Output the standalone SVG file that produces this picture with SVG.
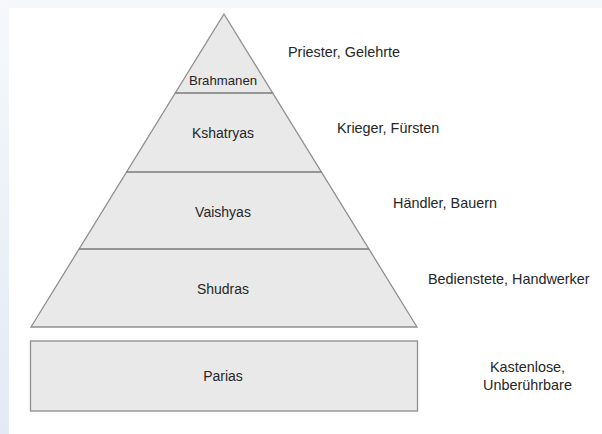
<svg xmlns="http://www.w3.org/2000/svg" width="602" height="434" viewBox="0 0 602 434">
<defs>
<linearGradient id="bgL" x1="0" y1="0" x2="0" y2="1">
<stop offset="0" stop-color="#f6f8fb"/>
<stop offset="1" stop-color="#e2eaf6"/>
</linearGradient>
<style>
.tier{fill:#e9e9e9;stroke:#8f8f8f;stroke-width:1.3}
.sep{stroke:#7a7a7a;stroke-width:1.3;fill:none}
.lbl{font-family:"Liberation Sans",Arial,sans-serif;font-size:14px;fill:#262626;text-anchor:middle}
.note{font-family:"Liberation Sans",Arial,sans-serif;font-size:14.4px;fill:#262626}
.notec{font-family:"Liberation Sans",Arial,sans-serif;font-size:14.4px;fill:#262626;text-anchor:middle}
</style>
</defs>
<rect x="0" y="0" width="602" height="434" fill="#f6f7fa"/>
<rect x="0" y="0" width="9" height="434" fill="url(#bgL)"/>
<rect x="9" y="8" width="593" height="426" fill="#ffffff"/>

<g id="pyramid">
<polygon class="tier" points="224,14 417,327 31,327"/>
</g>
<g id="connectors">
<line class="sep" x1="175.3" y1="93" x2="272.7" y2="93"/>
<line class="sep" x1="126.6" y1="172" x2="321.4" y2="172"/>
<line class="sep" x1="79.1" y1="249" x2="368.9" y2="249"/>
</g>
<g id="brahmanen">
<text class="lbl" x="223" y="84.5" style="font-size:13.2px">Brahmanen</text>
<text class="note" x="288" y="57">Priester, Gelehrte</text>
</g>
<g id="kshatryas">
<text class="lbl" x="223" y="138">Kshatryas</text>
<text class="note" x="337" y="133">Krieger, Fürsten</text>
</g>
<g id="vaishyas">
<text class="lbl" x="223" y="217">Vaishyas</text>
<text class="note" x="393" y="208">Händler, Bauern</text>
</g>
<g id="shudras">
<text class="lbl" x="223" y="294">Shudras</text>
<text class="note" x="428" y="284">Bedienstete, Handwerker</text>
</g>
<g id="parias">
<rect class="tier" x="30.5" y="341" width="387" height="70"/>
<text class="lbl" x="223" y="381">Parias</text>
<text class="notec" x="527.5" y="372">Kastenlose,</text>
<text class="notec" x="527.5" y="390">Unberührbare</text>
</g>
</svg>
